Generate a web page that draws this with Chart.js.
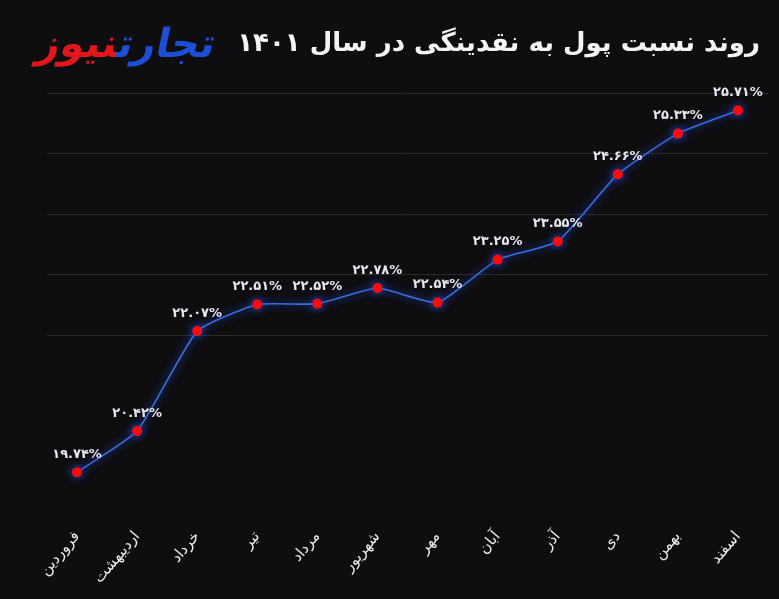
<!DOCTYPE html>
<html lang="fa">
<head>
<meta charset="utf-8">
<script src="https://cdn.jsdelivr.net/npm/chart.js@4/dist/chart.umd.min.js"></script>
<style>
    html, body { margin: 0; padding: 0; background: #0e0e10; }
    #wrap { position: relative; width: 779px; height: 599px; overflow: hidden; }
    #title {
        position: absolute; right: 19px; top: 27px;
        direction: rtl; color: #f4f4f4;
        font-family: "DejaVu Sans", sans-serif; font-weight: bold; font-size: 26px;
        white-space: nowrap;
    }
    #logo {
        position: absolute; left: 38px; top: 20px;
        direction: rtl; white-space: nowrap;
        font-family: "DejaVu Sans", sans-serif; font-weight: bold; font-size: 40px;
        letter-spacing: -1px;
        transform: skewX(-12deg);
    }
    #logo .blue { color: #1d4fd6; }
    #logo .red { color: #e3161c; }
</style>
</head>
<body>
<div id="wrap">
    <canvas id="chart" width="779" height="599"></canvas>
    <div id="title">روند نسبت پول به نقدینگی در سال ۱۴۰۱</div>
    <div id="logo"><span class="blue">تجارت</span><span class="red">نیوز</span></div>
</div>
<script>
const months = ['فروردین', 'اردیبهشت', 'خرداد', 'تیر', 'مرداد', 'شهریور', 'مهر', 'آبان', 'آذر', 'دی', 'بهمن', 'اسفند'];
const ratio = [19.74, 20.42, 22.07, 22.51, 22.52, 22.78, 22.54, 23.25, 23.55, 24.66, 25.33, 25.71];

const faDigits = '۰۱۲۳۴۵۶۷۸۹';
function toFa(str) {
    return String(str).replace(/[0-9]/g, d => faDigits[d]);
}

// glow around line and points
const glowPlugin = {
    id: 'glow',
    beforeDatasetsDraw(chart) {
        const ctx = chart.ctx;
        ctx.save();
        ctx.shadowColor = 'rgba(40, 90, 255, 0.9)';
        ctx.shadowBlur = 8;
    },
    afterDatasetsDraw(chart) {
        chart.ctx.restore();
    }
};

// value labels above every point
const valueLabels = {
    id: 'valueLabels',
    afterDatasetsDraw(chart) {
        const ctx = chart.ctx;
        const meta = chart.getDatasetMeta(0);
        ctx.save();
        ctx.font = 'bold 13px "DejaVu Sans", sans-serif';
        ctx.fillStyle = '#e6e6ee';
        ctx.textAlign = 'center';
        ctx.textBaseline = 'bottom';
        meta.data.forEach((pt, i) => {
            ctx.fillText(toFa(ratio[i].toFixed(2)) + '%', pt.x, pt.y - 11);
        });
        ctx.restore();
    }
};

new Chart(document.getElementById('chart').getContext('2d'), {
    type: 'line',
    data: {
        labels: months,
        datasets: [{
            data: ratio,
            borderColor: '#3a6ee0',
            borderWidth: 1.6,
            tension: 0.15,
            pointRadius: 5,
            pointBackgroundColor: '#ff0a0a',
            pointBorderWidth: 0,
            clip: false
        }]
    },
    options: {
        responsive: false,
        animation: false,
        layout: { padding: { left: 47, right: 11, top: 93, bottom: 9 } },
        plugins: {
            legend: { display: false },
            tooltip: { enabled: false }
        },
        scales: {
            x: {
                offset: true,
                grid: { display: false },
                border: { display: false },
                ticks: {
                    color: '#ececec',
                    font: { family: '"DejaVu Sans", sans-serif', size: 15 },
                    autoSkip: false,
                    minRotation: 50,
                    maxRotation: 50
                }
            },
            y: {
                min: 19,
                max: 26,
                border: { display: false },
                grid: {
                    drawTicks: false,
                    color: c => c.tick.value >= 22 ? '#2a2a2c' : 'transparent'
                },
                ticks: { display: false, stepSize: 1 }
            }
        }
    },
    plugins: [glowPlugin, valueLabels]
});
</script>
</body>
</html>
